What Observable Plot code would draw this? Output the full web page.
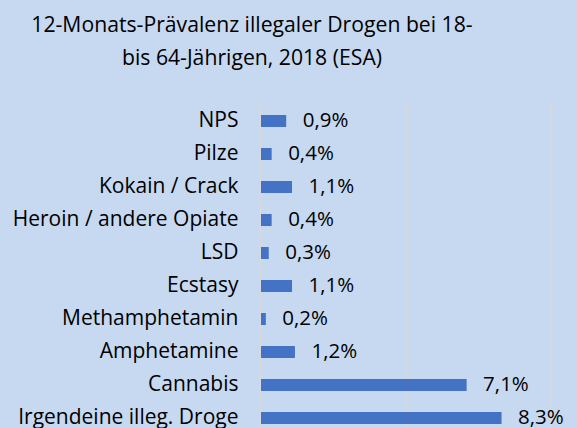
<!DOCTYPE html>
<html><head><meta charset="utf-8">
<script src="https://cdn.jsdelivr.net/npm/d3@7"></script>
<script src="https://cdn.jsdelivr.net/npm/@observablehq/plot@0.6"></script>
<style>
body{margin:0;background:#C6D9F1;}
#wrap{width:577px;height:428px;overflow:hidden;background:#C6D9F1;font-family:"Open Sans", sans-serif;}
#title{height:104px;box-sizing:border-box;padding-top:6.5px;width:504px;text-align:center;font-size:21.2px;line-height:33.5px;color:#000;}
#chart svg{display:block;}
</style></head><body>
<div id="wrap"><div id="title">12-Monats-Prävalenz illegaler Drogen bei 18-<br>bis 64-Jährigen, 2018 (ESA)</div><div id="chart"></div></div>
<script>
const categories = ["NPS","Pilze","Kokain / Crack","Heroin / andere Opiate","LSD","Ecstasy","Methamphetamin","Amphetamine","Cannabis","Irgendeine illeg. Droge"];
const values = [0.9,0.4,1.1,0.4,0.3,1.1,0.2,1.2,7.1,8.3];
const valueLabels = ["0,9%","0,4%","1,1%","0,4%","0,3%","1,1%","0,2%","1,2%","7,1%","8,3%"];
const gridTicks = [0,5,10];
const data = categories.map((c,i)=>({c, v: values[i], l: valueLabels[i]}));
const plot = Plot.plot({
  width:577, height:324, marginTop:0.5, marginBottom:-6.5, marginLeft:260, marginRight:26,
  style:{background:"transparent", fontFamily:"'Open Sans', sans-serif", fontSize:"21px", color:"#000", overflow:"hidden"},
  x:{domain:[0,10], axis:null},
  y:{domain:categories, paddingInner:0.65, paddingOuter:0.325, axis:null},
  marks:[
    Plot.ruleX(gridTicks,{stroke:"#D6D8DC", strokeWidth:2}),
    Plot.barX(data,{x:"v", y:"c", fill:"#4472C4", insetLeft:1}),
    Plot.text(data,{x:"v", y:"c", text:"l", textAnchor:"start", dx:16, dy:-1, fontSize:20.5, fill:"#000"}),
    Plot.axisY({tickSize:0, tickPadding:22, fontSize:21, label:null, fill:"#000", dy:-1})
  ]
});
document.getElementById("chart").appendChild(plot);
</script>
</body></html>
